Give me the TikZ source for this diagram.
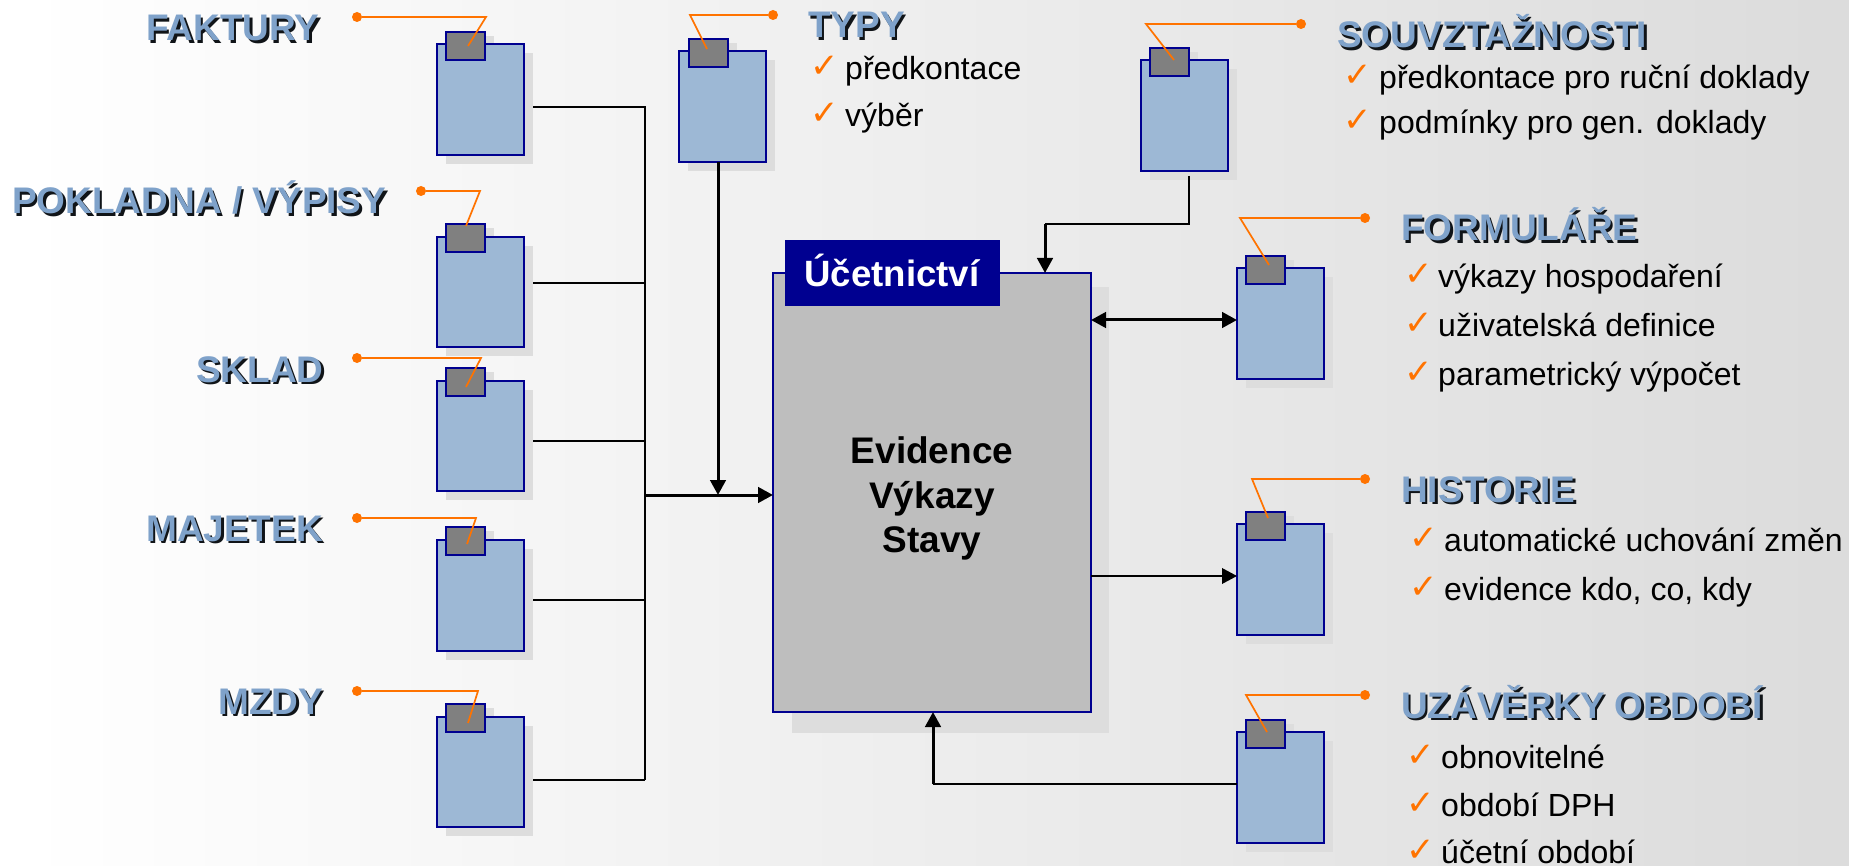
\documentclass[tikz,border=0pt]{standalone}
\usepackage{fontspec}
\setmainfont{Liberation Sans}
\newfontfamily\chkfont{DejaVu Sans}
\usetikzlibrary{arrows.meta}
\definecolor{navyl}{HTML}{000090}
\definecolor{bodyc}{HTML}{9DB8D5}
\definecolor{headc}{HTML}{7FA2CA}
\definecolor{headsh}{HTML}{101418}
\definecolor{orangel}{HTML}{FF7300}
\definecolor{shadc}{HTML}{DDDDDD}
\pgfdeclarelayer{bgl}\pgfdeclarelayer{connl}\pgfdeclarelayer{shadl}
\pgfsetlayers{bgl,connl,shadl,main}
\newcommand{\shtext}[1]{\rlap{\raisebox{-2.4pt}{\hspace{2.4pt}\textcolor{headsh}{#1}}}\textcolor{headc}{#1}}
\tikzset{
 body/.style={draw=navyl,line width=2pt,fill=bodyc,inner sep=0pt,outer sep=0pt,anchor=north west,minimum width=#1},
 tabbox/.style={draw=navyl,line width=2pt,fill=gray,inner sep=0pt,outer sep=0pt,anchor=north west,minimum width=39pt,minimum height=28pt},
 shad/.style={fill=shadc,draw=none},
 leader/.style={draw=orangel,line width=1.7pt},
 dotn/.style={circle,fill=orangel,inner sep=0pt,minimum size=10pt},
 heading/.style={anchor=base west,inner sep=0pt,font=\fontsize{37}{44}\selectfont\bfseries},
 item/.style={anchor=base west,inner sep=0pt,font=\fontsize{32}{38}\selectfont},
 chk/.style={anchor=base west,inner sep=0pt,text=orangel,yshift=2pt,xshift=-3pt,font=\chkfont\fontsize{34}{40}\selectfont\bfseries},
 midtext/.style={anchor=base,inner sep=0pt,font=\fontsize{37}{44}\selectfont\bfseries},
 thinl/.style={draw=black,line width=2pt},
 thickl/.style={draw=black,line width=3pt},
 tip/.style={-{Triangle[length=15pt,width=15.5pt]}},
 tips/.style={{Triangle[length=15pt,width=15.5pt]}-{Triangle[length=15pt,width=15.5pt]}},
}
\newcommand{\doc}[9]{%
 \begin{pgfonlayer}{shadl}
 \fill[shad] (#2+9,#3+9) rectangle (#2+#4+9,#3+#5+9);
 \fill[shad] (#6+9,#7+4) rectangle (#6+39+9,#3);
 \end{pgfonlayer}
 \node[body=#4 pt,minimum height=#5 pt] (#1) at (#2,#3) {};
 \node[tabbox] (#1tab) at (#6,#7) {};
 \node[dotn] (#1dot) at (#8,#9) {};
}
\newcommand{\lead}[5]{%
 \coordinate (#1corner) at (#2,#3);
 \coordinate (#1end) at (#4,#5);
 \draw[leader] (#1dot) -- (#1corner) -- (#1end);
}
\begin{document}
\begin{tikzpicture}[x=1pt,y=-1pt]
\useasboundingbox (0,0) rectangle (1849,866);
\begin{pgfonlayer}{bgl}
\foreach \i in {0,...,35}{
  \pgfmathsetmacro{\g}{100-\i*0.392}
  \pgfmathsetmacro{\xa}{\i*51.361}
  \pgfmathsetmacro{\xb}{\i*51.361+52.4}
  \fill[fill=white!\g!black] (\xa,0) rectangle (\xb,866);
}
\end{pgfonlayer}

% main box
\begin{pgfonlayer}{shadl}
\fill[shad] (792,287) rectangle (1109,733);
\end{pgfonlayer}
\node[draw=navyl,line width=2pt,fill=black!25.5,inner sep=0pt,outer sep=0pt,anchor=north west,minimum width=318pt,minimum height=439pt] (main) at (773,273) {};
\node[fill=navyl,inner sep=0pt,outer sep=0pt,anchor=north west,minimum width=215pt,minimum height=66pt] (hdr) at (785,240) {};
\node[anchor=base,inner sep=0pt,text=white,font=\fontsize{36.6}{44}\selectfont\bfseries] (hdrt) at (892,287) {Účetnictví};
\node[midtext] (mt1) at (932,463) {Evidence};
\node[midtext] (mt2) at (932,508) {Výkazy};
\node[midtext] (mt3) at (932,552) {Stavy};

% documents
\doc{fak}{437}{44}{87}{111}{446}{32}{357}{17}
\doc{pok}{437}{237}{87}{110}{446}{224}{421}{191}
\doc{skl}{437}{381}{87}{110}{446}{368}{357}{358}
\doc{maj}{437}{540}{87}{111}{446}{527}{357}{518}
\doc{mzd}{437}{717}{87}{110}{446}{704}{357}{691}
\doc{typ}{679}{51}{87}{111}{689}{39}{773}{15}
\doc{sou}{1141}{60}{87}{111}{1150}{48}{1301}{24}
\doc{for}{1237}{268}{87}{111}{1246}{256}{1365}{218}
\doc{his}{1237}{524}{87}{111}{1246}{512}{1365}{479}
\doc{uza}{1237}{732}{87}{111}{1246}{720}{1365}{695}

\lead{fak}{486}{17}{468}{46}
\lead{pok}{480}{191}{466}{226}
\lead{skl}{481}{358}{466}{387}
\lead{maj}{476}{518}{467}{544}
\lead{mzd}{478}{691}{468}{723}
\lead{typ}{690}{15}{707}{49}
\lead{sou}{1146}{24}{1174}{60}
\lead{for}{1240}{218}{1269}{265}
\lead{his}{1252}{479}{1268}{518}
\lead{uza}{1246}{695}{1267}{732}

% bus
\coordinate (busTop) at (645,107);
\coordinate (busPok) at (645,283);
\coordinate (busSkl) at (645,441);
\coordinate (busMaj) at (645,600);
\coordinate (busBot) at (645,780);
\coordinate (busMid) at (645,495);
\begin{pgfonlayer}{connl}
\draw[thinl] (fak.east |- busTop) -- (busTop) -- (busBot);
\draw[thinl] (pok.east |- busPok) -- (busPok);
\draw[thinl] (skl.east |- busSkl) -- (busSkl);
\draw[thinl] (maj.east |- busMaj) -- (busMaj);
\draw[thinl] (mzd.east |- busBot) -- (busBot);
\end{pgfonlayer}
\draw[thickl,tip] (busMid) -- (main.west |- busMid);
\coordinate (typJoin) at (718,495);
\draw[thickl,tip] (typJoin |- typ.south) -- (typJoin);
\coordinate (souA) at (1189,224);
\coordinate (souB) at (1045,224);
\draw[thinl] ([yshift=-5pt]souA |- sou.south) -- (souA) -- (souB);
\draw[thickl,tip] (souB) -- (souB |- main.north);
\coordinate (forY) at (1165,320);
\draw[thickl,tips] (main.east |- forY) -- (for.west |- forY);
\coordinate (hisY) at (1165,576);
\draw[thinl,tip] (main.east |- hisY) -- (his.west |- hisY);
\coordinate (uzaA) at (933,784);
\draw[thinl] (uza.west |- uzaA) -- (uzaA);
\draw[thickl,tip] (uzaA) -- (uzaA |- main.south);

% headings
\node[heading] (hfak) at (146,41) {\shtext{FAKTURY}};
\node[heading] (hpok) at (12,214) {\shtext{POKLADNA / VÝPISY}};
\node[heading] (hskl) at (196,382) {\shtext{SKLAD}};
\node[heading] (hmaj) at (146,541) {\shtext{MAJETEK}};
\node[heading] (hmzd) at (218,714) {\shtext{MZDY}};
\node[heading] (htyp) at (808,38) {\shtext{TYPY}};
\node[heading] (hsou) at (1337,48) {\shtext{SOUVZTAŽNOSTI}};
\node[heading] (hfor) at (1401,241) {\shtext{FORMULÁŘE}};
\node[heading] (hhis) at (1401,502) {\shtext{HISTORIE}};
\node[heading] (huza) at (1401,718) {\shtext{UZÁVĚRKY OBDOBÍ}};

% items
\node[chk] (c1) at (813,80) {✓}; \node[item] (i1) at (845,80) {předkontace};
\node[chk] (c2) at (813,127) {✓}; \node[item] (i2) at (845,127) {výběr};
\node[chk] (c3) at (1346,89) {✓}; \node[item] (i3) at (1379,89) {předkontace pro ruční doklady};
\node[chk] (c4) at (1346,134) {✓}; \node[item] (i4) at (1379,134) {podmínky pro gen. doklady};
\node[chk] (c5) at (1407,288) {✓}; \node[item] (i5) at (1438,288) {výkazy hospodaření};
\node[chk] (c6) at (1407,337) {✓}; \node[item] (i6) at (1438,337) {uživatelská definice};
\node[chk] (c7) at (1407,385) {✓}; \node[item] (i7) at (1438,385) {parametrický výpočet};
\node[chk] (c8) at (1412,551) {✓}; \node[item] (i8) at (1444,551) {automatické uchování změn};
\node[chk] (c9) at (1412,600) {✓}; \node[item] (i9) at (1444,600) {evidence kdo, co, kdy};
\node[chk] (c10) at (1409,768) {✓}; \node[item] (i10) at (1441,768) {obnovitelné};
\node[chk] (c11) at (1409,816) {✓}; \node[item] (i11) at (1441,816) {období DPH};
\node[chk] (c12) at (1409,863) {✓}; \node[item] (i12) at (1441,863) {účetní období};
\end{tikzpicture}
\end{document}
